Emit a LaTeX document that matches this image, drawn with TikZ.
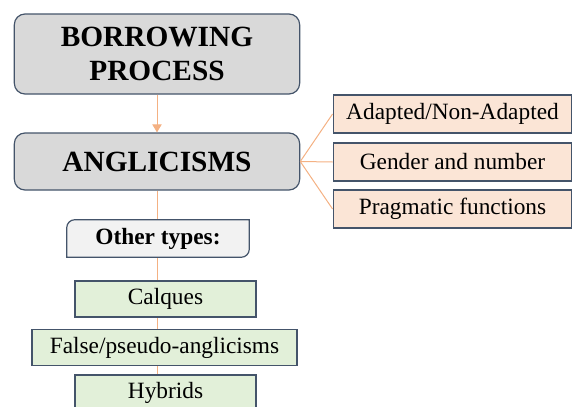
\documentclass[tikz,border=0pt]{standalone}
\usepackage{fontspec}
\setmainfont{Liberation Serif}
\usepackage{xcolor}
\usetikzlibrary{backgrounds,arrows.meta}
\definecolor{edgeblue}{HTML}{44546A}
\definecolor{greyfill}{HTML}{D9D9D9}
\definecolor{peach}{HTML}{F4B183}
\definecolor{peachfill}{HTML}{FBE5D6}
\definecolor{greenfill}{HTML}{E2F0D9}
\definecolor{otherfill}{HTML}{F2F2F2}
\tikzset{mainbox/.style={rectangle,rounded corners=8pt,draw=edgeblue,line width=0.9pt,fill=greyfill,align=center,font=\fontsize{22}{26}\selectfont\bfseries,minimum width=214pt},
featbox/.style={rectangle,draw=edgeblue,line width=0.9pt,fill=peachfill,font=\fontsize{17.5}{19}\selectfont,minimum width=179pt,minimum height=28.5pt},
typebox/.style={rectangle,draw=edgeblue,line width=0.9pt,fill=greenfill,font=\fontsize{17.5}{19}\selectfont,minimum height=27pt},
link/.style={draw=peach,line width=0.75pt}}

\begin{document}
\begin{tikzpicture}[x=0.75pt,y=-0.75pt,>={Triangle[width=7pt,length=6pt]}]
        \clip (0,0) rectangle (572,407);
        \useasboundingbox (0,0) rectangle (572,407);
        \node[mainbox,minimum height=60pt] (borrow) at (157,54) {BORROWING\\PROCESS};
        \node[mainbox,minimum height=42.75pt] (angl) at (157,161.5) {ANGLICISMS};
        \node[font=\fontsize{17.5}{19}\selectfont\bfseries,minimum width=136.5pt,minimum height=27.75pt] (other) at (158,238.5) {};
        \node[typebox,minimum width=135.75pt] (calq) at (165.5,299) {Calques};
        \node[typebox,minimum width=198.75pt] (false) at (164.5,347.5) {False/pseudo-anglicisms};
        \node[typebox,minimum width=135.75pt] (hyb) at (165.5,393) {Hybrids};
        \node[featbox] (adapt) at (452.5,114) {Adapted/Non-Adapted};
        \node[featbox] (gender) at (452.5,162) {Gender and number};
        \node[featbox] (prag) at (452.5,209) {Pragmatic functions};
        \coordinate (tail) at (157,380);

        \begin{pgfonlayer}{background}
        \draw [link] (angl.south) to (tail);
        \fill[otherfill,draw=edgeblue,line width=0.9pt] (other.south west) [rounded corners=6pt] -- (other.north west) [sharp corners] -- (other.north east) [rounded corners=6pt] -- (other.south east) [sharp corners] -- cycle;
        \end{pgfonlayer}
        \node[font=\fontsize{17.5}{19}\selectfont\bfseries] at (other) {Other types:};

        \draw [link,->] (borrow) to (angl);
        \draw [link] (angl.east) to (adapt.west);
        \draw [link] (angl.east) to (gender.west);
        \draw [link] (angl.east) to (prag.west);
    \end{tikzpicture}
\end{document}
